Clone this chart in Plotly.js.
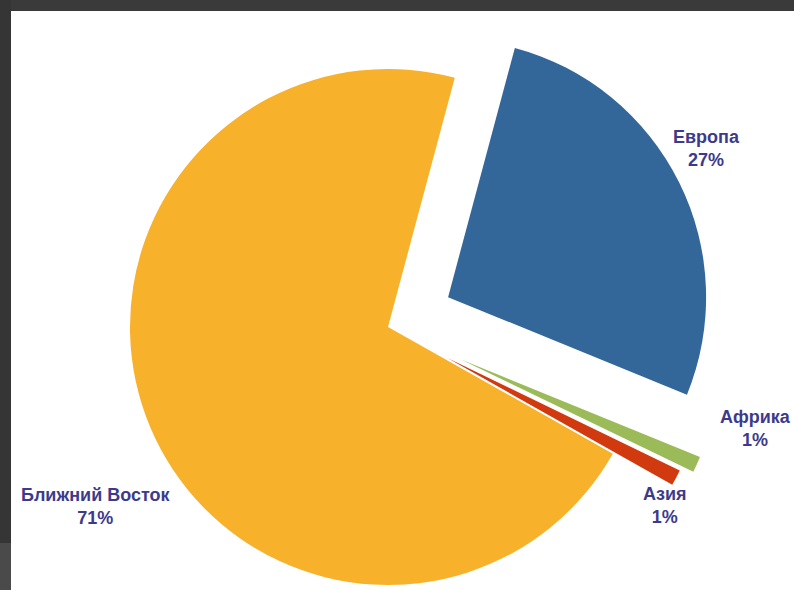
<!DOCTYPE html>
<html>
<head>
<meta charset="utf-8">
<script src="https://cdn.plot.ly/plotly-3.0.1.min.js"></script>
<style>
  html, body { margin: 0; padding: 0; width: 794px; height: 590px; overflow: hidden; background: #ffffff; }
  #chart { position: absolute; left: 0; top: -30px; width: 794px; height: 720px; }
  .frame { position: absolute; z-index: 10; }
</style>
</head>
<body>
<div id="chart"></div>
<div class="frame" style="left:0;top:0;width:794px;height:11px;background:#3a3a3a;"></div>
<div class="frame" style="left:0;top:0;width:11px;height:543px;background:#353535;"></div>
<div class="frame" style="left:0;top:543px;width:11px;height:47px;background:#4a4a4a;"></div>
<script>
// Data
const regions = ['Европа', 'Африка', 'Азия', 'Ближний Восток'];
const shares = [27, 1, 1, 71];
const sliceColors = ['#346799', '#9BBB59', '#D03A0E', '#F7B12A'];
const pulls = [0.26, 0.31, 0.26, 0];

const total = shares.reduce((a, b) => a + b, 0);
const labelTexts = regions.map((r, i) => r + '<br>' + Math.round(shares[i] / total * 100) + '%');

// label positions (page pixels) -> paper coords of the 794x720 div shifted up by 30px
const W = 794, H = 720, OFF = 30;
const labelPos = [[706, 148], [755, 429], [665, 505], [95.5, 506]];

const trace = {
  type: 'pie',
  labels: regions,
  values: shares,
  sort: false,
  direction: 'clockwise',
  rotation: 15,
  pull: pulls,
  marker: { colors: sliceColors, line: { width: 0 } },
  textinfo: 'none',
  hoverinfo: 'label+percent',
  showlegend: false,
  domain: { x: [(388 - 338) / W, (388 + 338) / W], y: [1 - (327 + OFF + 338) / H, 1 - (327 + OFF - 338) / H] }
};

const annotations = labelTexts.map((t, i) => ({
  text: '<b>' + t + '</b>',
  xref: 'paper', yref: 'paper',
  x: labelPos[i][0] / W,
  y: 1 - (labelPos[i][1] + OFF) / H,
  xanchor: 'center', yanchor: 'middle',
  showarrow: false,
  align: 'center',
  font: { family: 'Liberation Sans, Arial, sans-serif', size: 18, color: '#3d3a8c' }
}));

const layout = {
  width: W, height: H,
  margin: { l: 0, r: 0, t: 0, b: 0 },
  paper_bgcolor: '#ffffff',
  plot_bgcolor: '#ffffff',
  showlegend: false,
  annotations: annotations
};

Plotly.newPlot('chart', [trace], layout, { displayModeBar: false, staticPlot: true });
</script>
</body>
</html>
